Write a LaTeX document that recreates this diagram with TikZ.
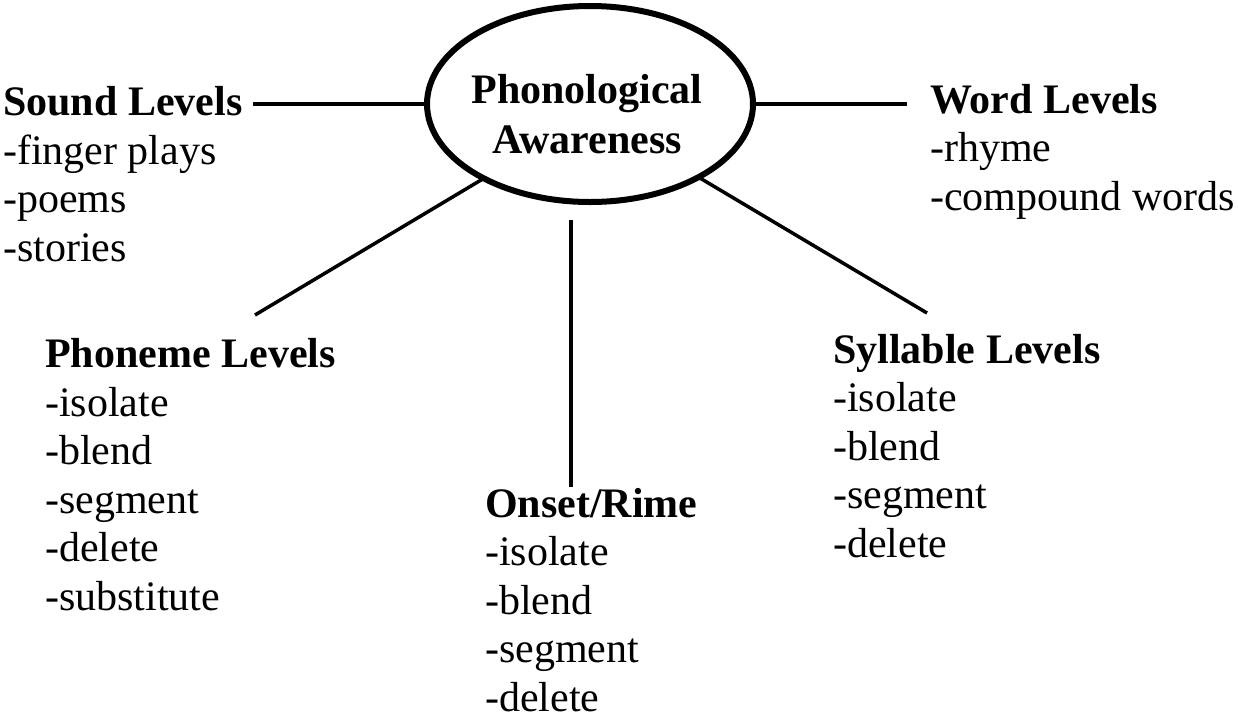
\documentclass[tikz,border=0pt]{standalone}
\usepackage{fontspec}
\setmainfont{Liberation Serif}
\usetikzlibrary{shapes.geometric}
\begin{document}
\begin{tikzpicture}[x=1pt,y=-1pt,
  conn/.style={line width=3.5pt},
  grp/.style={anchor=base west, align=left, inner sep=0pt, font=\fontsize{42}{48.5}\selectfont},
  hub/.style={draw, ellipse, line width=6pt, minimum width=326pt, minimum height=196pt, inner sep=0pt, outer sep=0pt},
]
\useasboundingbox (0,0) rectangle (1238,721);
\node[hub] (pa) at (590,104) {};
% base anchor of a multi-line node = baseline of its last line
\node[anchor=base, align=center, inner sep=0pt, font=\fontsize{42}{50}\selectfont\bfseries] (pat) at (587,153) {Phonological\\Awareness};

\node[grp] (sound) at (3,261) {{\bfseries Sound Levels}\\-finger plays\\-poems\\-stories};
\node[grp] (word) at (930,210) {{\bfseries Word Levels}\\-rhyme\\-compound words};
\node[grp] (phon) at (45,610) {{\bfseries Phoneme Levels}\\-isolate\\-blend\\-segment\\-delete\\-substitute};
\node[grp] (onset) at (485,711) {{\bfseries Onset/Rime}\\-isolate\\-blend\\-segment\\-delete};
\node[grp] (syl) at (833,557) {{\bfseries Syllable Levels}\\-isolate\\-blend\\-segment\\-delete};

\coordinate (sEnd) at (253,104);
\coordinate (wEnd) at (907,104);
\coordinate (pEnd) at (255,315);
\coordinate (yEnd) at (927,313);
\coordinate (oTop) at (571,220);
\coordinate (oBot) at (571,487);

\draw[conn] (pa.west) -- (sEnd);
\draw[conn] (pa.east) -- (wEnd);
\draw[conn] (pa.215.6) -- (pEnd);
\draw[conn] (pa.-34.9) -- (yEnd);
\draw[conn] (oTop) -- (oBot);
\end{tikzpicture}
\end{document}
